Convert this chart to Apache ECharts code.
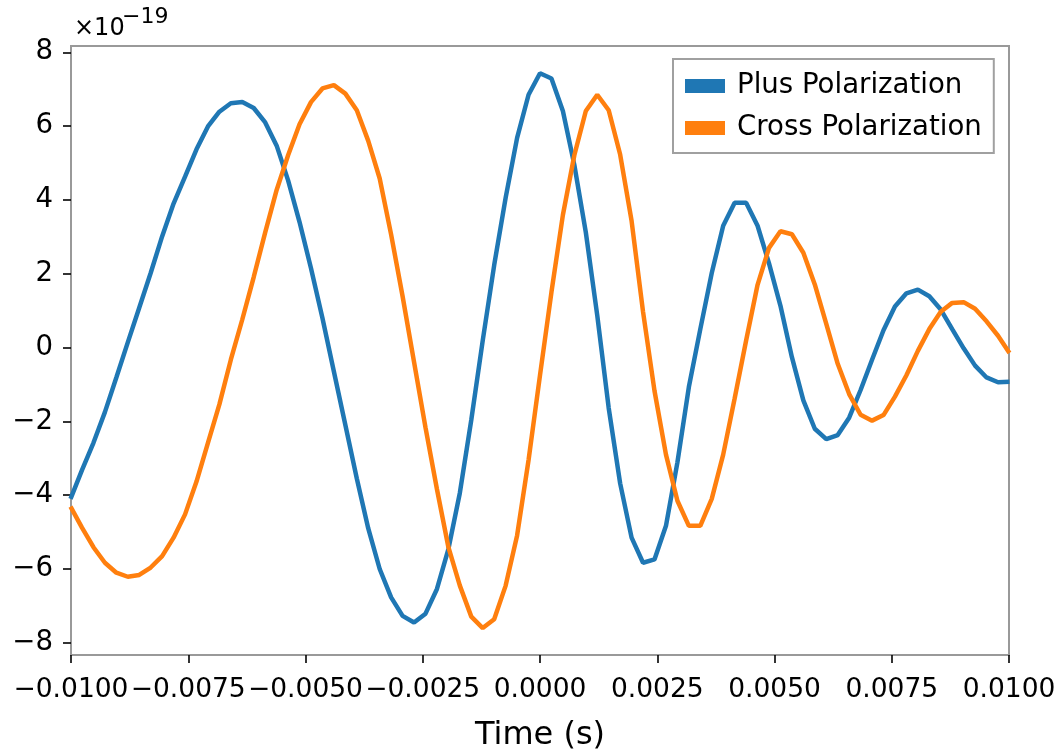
<!DOCTYPE html>
<html>
<head>
<meta charset="utf-8">
<title>Gravitational wave polarizations</title>
<script src="https://cdn.jsdelivr.net/npm/echarts@6/dist/echarts.min.js"></script>
<style>
  html, body { margin: 0; padding: 0; background: #fff; }
  #chart { width: 1063px; height: 749px; }
</style>
</head>
<body>
<div id="chart"></div>
<script>
  // sample times (s), dt = 1/4096
  const times = [
    -0.010010, -0.009766, -0.009521, -0.009277, -0.009033, -0.008789, -0.008545, -0.008301,
    -0.008057, -0.007813, -0.007568, -0.007324, -0.007080, -0.006836, -0.006592, -0.006348,
    -0.006104, -0.005859, -0.005615, -0.005371, -0.005127, -0.004883, -0.004639, -0.004395,
    -0.004150, -0.003906, -0.003662, -0.003418, -0.003174, -0.002930, -0.002686, -0.002441,
    -0.002197, -0.001953, -0.001709, -0.001465, -0.001221, -0.000977, -0.000732, -0.000488,
    -0.000244, 0.000000,
    0.000244, 0.000488, 0.000732, 0.000977, 0.001221, 0.001465, 0.001709, 0.001953,
    0.002197, 0.002441, 0.002686, 0.002930, 0.003174, 0.003418, 0.003662, 0.003906,
    0.004150, 0.004395, 0.004639, 0.004883, 0.005127, 0.005371, 0.005615, 0.005859,
    0.006104, 0.006348, 0.006592, 0.006836, 0.007080, 0.007324, 0.007568, 0.007813,
    0.008057, 0.008301, 0.008545, 0.008789, 0.009033, 0.009277, 0.009521, 0.009766,
    0.010010
  ];

  // strain values in units of 1e-19
  const plusPol = [
    -4.10, -3.32, -2.58, -1.75, -0.81, 0.14, 1.08, 2.02,
    3.01, 3.90, 4.63, 5.37, 5.99, 6.39, 6.62, 6.65,
    6.49, 6.10, 5.47, 4.53, 3.40, 2.15, 0.80, -0.65,
    -2.10, -3.55, -4.90, -6.00, -6.77, -7.27, -7.45, -7.21,
    -6.54, -5.46, -3.94, -1.96, 0.19, 2.23, 4.06, 5.68,
    6.85, 7.43,
    7.29, 6.41, 4.95, 3.12, 0.87, -1.64, -3.68, -5.15,
    -5.83, -5.74, -4.83, -3.11, -1.07, 0.50, 2.02, 3.30,
    3.92, 3.92, 3.30, 2.28, 1.13, -0.26, -1.43, -2.20,
    -2.48, -2.37, -1.90, -1.15, -0.33, 0.47, 1.11, 1.47,
    1.57, 1.39, 1.03, 0.50, -0.02, -0.49, -0.81, -0.94,
    -0.93
  ];
  const crossPol = [
    -4.31, -4.88, -5.41, -5.83, -6.10, -6.21, -6.16, -5.96,
    -5.65, -5.15, -4.52, -3.63, -2.58, -1.54, -0.33, 0.76,
    1.91, 3.12, 4.27, 5.21, 6.05, 6.65, 7.02, 7.11,
    6.88, 6.43, 5.60, 4.58, 3.06, 1.39, -0.39, -2.17,
    -3.84, -5.41, -6.45, -7.29, -7.60, -7.36, -6.45, -5.09,
    -3.05, -0.75,
    1.50, 3.59, 5.21, 6.41, 6.85, 6.43, 5.23, 3.43,
    0.97, -1.17, -2.90, -4.15, -4.83, -4.83, -4.10, -2.90,
    -1.38, 0.19, 1.70, 2.70, 3.15, 3.07, 2.57, 1.71,
    0.64, -0.44, -1.26, -1.82, -1.98, -1.83, -1.33, -0.75,
    -0.09, 0.50, 0.97, 1.21, 1.23, 1.05, 0.71, 0.32,
    -0.15
  ];

  const yTicks = [-8, -6, -4, -2, 0, 2, 4, 6, 8];

  const font = 'DejaVu Sans';
  const minus = s => String(s).replace('-', '\u2212');

  const chart = echarts.init(document.getElementById('chart'));

  chart.setOption({
    animation: false,
    textStyle: { fontFamily: font },
    grid: {
      left: 71, right: 54, top: 46, bottom: 94,
      outerBoundsMode: 'none',
      show: true, borderColor: '#999', borderWidth: 2
    },
    legend: {
      orient: 'vertical',
      left: 673, top: 59,
      padding: [11, 12, 9, 12],
      itemGap: 10,
      itemWidth: 40, itemHeight: 14,
      icon: 'rect',
      backgroundColor: '#fff',
      borderColor: '#a0a0a0', borderWidth: 2,
      textStyle: { fontFamily: font, fontSize: 27.6, color: '#000', lineHeight: 32, padding: [0, 0, 0, 7] },
      data: ['Plus Polarization', 'Cross Polarization']
    },
    xAxis: {
      type: 'value',
      min: -0.01, max: 0.01, interval: 0.0025,
      name: 'Time (s)',
      nameLocation: 'middle',
      nameGap: 65,
      nameTextStyle: { fontFamily: font, fontSize: 32, color: '#000' },
      axisLine: { show: false, onZero: false },
      axisTick: { length: 8, lineStyle: { color: '#000', width: 1.6 } },
      axisLabel: {
        margin: 22, fontFamily: font, fontSize: 26.5, color: '#000',
        showMinLabel: true, showMaxLabel: true, hideOverlap: false,
        formatter: v => minus(v.toFixed(4))
      },
      splitLine: { show: false }
    },
    yAxis: {
      type: 'value',
      min: -8.33, max: 8.17,
      axisLine: { show: false, onZero: false },
      axisTick: { length: 8, customValues: yTicks, lineStyle: { color: '#000', width: 1.6 } },
      axisLabel: {
        margin: 18, fontFamily: font, fontSize: 27.6, color: '#000',
        customValues: yTicks,
        formatter: v => minus(v)
      },
      splitLine: { show: false }
    },
    graphic: [
      // offset text  x10^-19
      { type: 'text', left: 74, top: 17, style: { text: '\u00d710', fontFamily: font, fontSize: 24, fill: '#000' } },
      { type: 'text', left: 122, top: 6, style: { text: '\u221219', fontFamily: font, fontSize: 22, fill: '#000' } }
    ],
    series: [
      {
        name: 'Plus Polarization',
        type: 'line',
        data: times.map((t, i) => [t, plusPol[i]]),
        showSymbol: false,
        color: '#1f77b4',
        lineStyle: { width: 4.5, color: '#1f77b4' }
      },
      {
        name: 'Cross Polarization',
        type: 'line',
        data: times.map((t, i) => [t, crossPol[i]]),
        showSymbol: false,
        color: '#ff7f0e',
        lineStyle: { width: 4.5, color: '#ff7f0e' }
      }
    ]
  });
</script>
</body>
</html>
